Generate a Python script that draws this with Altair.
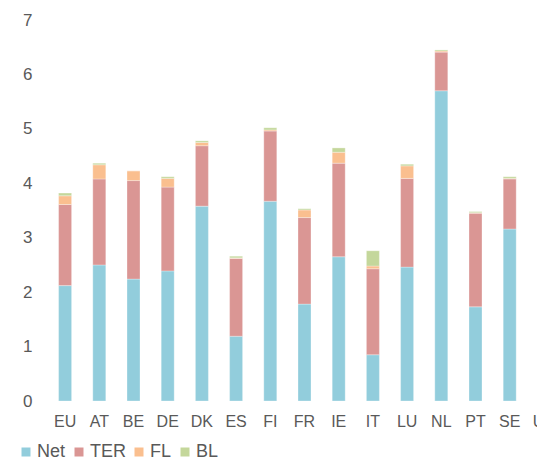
import altair as alt
import pandas as pd

countries = ["EU", "AT", "BE", "DE", "DK", "ES", "FI", "FR", "IE", "IT", "LU", "NL", "PT", "SE", "UK"]
net = [2.12, 2.50, 2.24, 2.39, 3.58, 1.19, 3.67, 1.78, 2.65, 0.85, 2.46, 5.70, 1.73, 3.16, 1.78]
ter = [1.49, 1.58, 1.81, 1.54, 1.11, 1.43, 1.29, 1.59, 1.72, 1.58, 1.63, 0.71, 1.72, 0.92, 1.32]
fl = [0.16, 0.26, 0.18, 0.16, 0.06, 0.01, 0.02, 0.14, 0.20, 0.05, 0.23, 0.02, 0.01, 0.01, 0.10]
bl = [0.05, 0.03, 0.00, 0.03, 0.03, 0.03, 0.04, 0.02, 0.08, 0.28, 0.03, 0.02, 0.02, 0.03, 0.02]
series = ["Net", "TER", "FL", "BL"]
colors = ["#92CDDC", "#DA9694", "#FABF8F", "#C4D79B"]

rows = []
for i, c in enumerate(countries):
    for k, (s, vals) in enumerate(zip(series, [net, ter, fl, bl])):
        rows.append({"country": c, "series": s, "value": vals[i], "order": k})
df = pd.DataFrame(rows)

FONT = "Liberation Sans"
GREY = "#595959"

chart = alt.Chart(df).mark_bar(stroke="white", strokeWidth=0.6, strokeOpacity=0.5).encode(
    x=alt.X("country:N", sort=countries,
            scale=alt.Scale(range=[0, 513], paddingInner=0.62, paddingOuter=0.31),
            axis=alt.Axis(title=None, domain=False, ticks=False, labelAngle=0,
                          labelFont=FONT, labelFontSize=16, labelColor=GREY,
                          labelPadding=12)),
    y=alt.Y("value:Q", stack="zero",
            scale=alt.Scale(domain=[0, 7], nice=False),
            axis=alt.Axis(title=None, domain=False, ticks=False, grid=False,
                          values=list(range(8)),
                          labelFont=FONT, labelFontSize=17, labelColor=GREY,
                          labelPadding=16)),
    color=alt.Color("series:N", sort=series,
                    scale=alt.Scale(domain=series, range=colors),
                    legend=alt.Legend(title=None, orient="none", direction="horizontal",
                                      legendX=-31, legendY=423,
                                      symbolType="square", symbolSize=81,
                                      symbolStrokeWidth=0,
                                      labelFont=FONT, labelFontSize=18, labelColor=GREY,
                                      labelOffset=2, columnPadding=4)),
    order=alt.Order("order:Q", sort="ascending"),
).properties(
    width=489, height=381,
    autosize=alt.AutoSizeParams(type="none"),
    padding={"left": 40, "top": 12, "right": 0, "bottom": 62},
).configure_view(stroke=None)

chart.save("out.html", embed_options={"renderer": "svg", "actions": False})
